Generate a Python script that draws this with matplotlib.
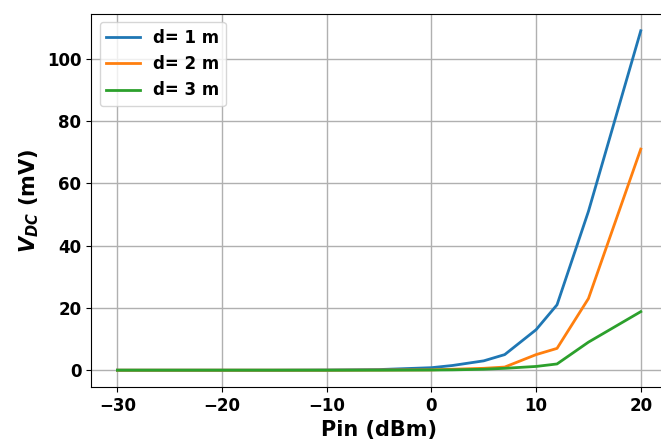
import numpy as np
import matplotlib.pyplot as plt

plt.rcParams.update({'xtick.labelsize': 12,
                     'ytick.labelsize': 12,
                     'font.size': 12,
                     'font.weight': 'bold'})

pin = [-30, -25, -20, -15, -10, -5, 0, 2, 5, 7, 10, 12, 15, 20]
v_1m = [0, 0, 0, 0, 0.05, 0.2, 0.8, 1.5, 3, 5, 13, 21, 51, 109]
v_2m = [0, 0, 0, 0, 0, 0.05, 0.1, 0.3, 0.6, 1, 5, 7, 23, 71]
v_3m = [0, 0, 0, 0, 0, 0, 0.05, 0.1, 0.3, 0.6, 1.2, 2, 9, 18.8]

fig = plt.figure(figsize=(6.61, 4.45), dpi=100)
ax = fig.add_subplot(111)

ax.plot(pin, v_1m, lw=2, label="d= 1 m")
ax.plot(pin, v_2m, lw=2, label="d= 2 m")
ax.plot(pin, v_3m, lw=2, label="d= 3 m")

ax.grid(True, color="#b0b0b0", lw=1)
ax.set_xlabel("Pin (dBm)", fontsize=15, fontweight="bold")
ax.set_ylabel(r"$\mathbfit{V_{DC}}$ (mV)", fontsize=15, fontweight="bold")
for t in ax.get_xticklabels() + ax.get_yticklabels():
    t.set_fontweight("bold")
ax.legend(loc="upper left", prop={'weight': 'bold', 'size': 12})

fig.subplots_adjust(left=0.138, right=1.009, top=0.969, bottom=0.13)
fig.savefig("out.png", dpi=100)
